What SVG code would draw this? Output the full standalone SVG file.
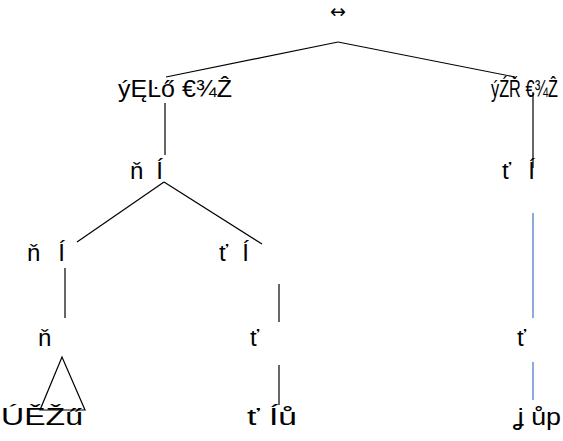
<svg xmlns="http://www.w3.org/2000/svg" width="563" height="441" viewBox="0 0 563 441">
<style>
text{font-family:"Liberation Sans","DejaVu Sans",sans-serif;font-size:24px;fill:#000;white-space:pre}
.e{stroke:#000;stroke-width:1.2;fill:none}
.b{stroke:#4472C4;stroke-width:1.2;fill:none}
</style>
<rect width="563" height="441" fill="#fff"/>
<g id="connectors">
<line class="e" x1="338" y1="42" x2="166" y2="77"/>
<line class="e" x1="338" y1="42" x2="515" y2="77"/>
<line class="e" x1="165" y1="103" x2="165" y2="155"/>
<line class="e" x1="164" y1="182" x2="77" y2="242"/>
<line class="e" x1="164" y1="182" x2="262" y2="244"/>
<line class="e" x1="533" y1="92" x2="533" y2="168"/>
<line class="b" x1="533" y1="213" x2="533" y2="318"/>
<line class="e" x1="65" y1="268" x2="65" y2="318"/>
<line class="e" x1="279" y1="284" x2="279" y2="322"/>
<polygon class="e" points="62,357 40,410 85,410"/>
<line class="e" x1="279" y1="365" x2="279" y2="405"/>
<line class="b" x1="533" y1="362" x2="533" y2="400"/>
</g>
<g id="root"><text x="338" y="18" text-anchor="middle" style="font-family:'DejaVu Sans',sans-serif;font-size:19px">↔</text></g>
<g id="n1"><text x="118" y="97" textLength="114" lengthAdjust="spacingAndGlyphs">ýĘĿő €¾Ẑ</text></g>
<g id="n2"><text transform="translate(491,97) scale(0.68,1)">ýŹŘ €¾Ẑ</text></g>
<g id="n3"><text x="130" y="179" textLength="33">ň Í</text></g>
<g id="n4"><text x="502" y="179" textLength="33">ť Í</text></g>
<g id="n5"><text x="27" y="261" textLength="38">ň Í</text></g>
<g id="n6"><text x="219" y="261" textLength="30">ť Í</text></g>
<g id="n7"><text x="38" y="346">ň</text></g>
<g id="n8"><text x="250" y="346">ť</text></g>
<g id="n9"><text x="517" y="346">ť</text></g>
<g id="n10"><text x="1" y="425" textLength="82" lengthAdjust="spacingAndGlyphs">ÚĚŽű</text></g>
<g id="n11"><text x="247" y="425" textLength="50" lengthAdjust="spacingAndGlyphs">ť Íů</text></g>
<g id="n12"><text x="513" y="425" textLength="48" lengthAdjust="spacingAndGlyphs">ʝ ůp</text></g>
</svg>
